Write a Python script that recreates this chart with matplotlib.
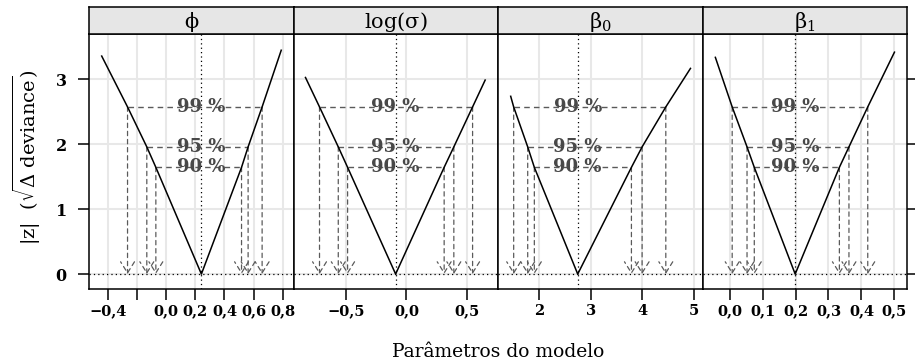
import matplotlib
matplotlib.use('Agg')
import matplotlib.pyplot as plt

plt.rcParams['font.family'] = 'DejaVu Serif'
plt.rcParams['mathtext.fontset'] = 'dejavuserif'

# Parâmetros e perfis de |z|
strip_labels = [r'$\mathregular{\phi}$', r'$\mathregular{\log(\sigma)}$',
                r'$\mathregular{\beta_0}$', r'$\mathregular{\beta_1}$']
level_names = ['90 %', '95 %', '99 %']
level_z = [1.645, 1.960, 2.576]

mle = [0.242, -0.089, 2.747, 0.199]
lower = [[-0.070, -0.132, -0.264],
         [-0.486, -0.563, -0.718],
         [1.903, 1.774, 1.501],
         [0.075, 0.053, 0.008]]
upper = [[0.517, 0.562, 0.658],
         [0.312, 0.392, 0.547],
         [3.792, 4.000, 4.461],
         [0.333, 0.362, 0.419]]
left_end = [(-0.441, 3.36), (-0.834, 3.03), (1.443, 2.74), (-0.043, 3.34)]
right_end = [(0.789, 3.45), (0.651, 2.99), (4.941, 3.17), (0.500, 3.42)]

x_ticks = [[-0.4, -0.2, 0.0, 0.2, 0.4, 0.6, 0.8],
           [-0.5, 0.0, 0.5],
           [2, 3, 4, 5],
           [0.0, 0.1, 0.2, 0.3, 0.4, 0.5]]
x_ticklabels = [['−0,4', '', '0,0', '0,2', '0,4', '0,6', '0,8'],
                ['−0,5', '0,0', '0,5'],
                ['2', '3', '4', '5'],
                ['0,0', '0,1', '0,2', '0,3', '0,4', '0,5']]
y_ticks = [0, 1, 2, 3]

x_limits = [(-0.528, 0.873), (-0.933, 0.757), (1.196, 5.175), (-0.082, 0.538)]
y_limits = (-0.23, 3.70)

W, H = 915, 364
fig = plt.figure(figsize=(W / 100, H / 100), dpi=100)

panel_left = 89
panel_w = 204.5
panel_top, panel_bottom = 34, 289
strip_top = 7

grid_col = '#e8e8e8'
ci_col = '#5a5a5a'

for i in range(4):
    x0 = (panel_left + i * panel_w) / W
    ax = fig.add_axes([x0, (H - panel_bottom) / H, panel_w / W,
                       (panel_bottom - panel_top) / H])
    st = fig.add_axes([x0, (H - panel_top) / H, panel_w / W,
                       (panel_top - strip_top) / H])

    # faixa com o nome do parâmetro
    st.set_facecolor('#e6e6e6')
    st.set_xticks([])
    st.set_yticks([])
    for s in st.spines.values():
        s.set_linewidth(1.1)
    st.text(0.5, 0.45, strip_labels[i], transform=st.transAxes,
            ha='center', va='center', fontsize=15)

    ax.set_xlim(*x_limits[i])
    ax.set_ylim(*y_limits)
    for s in ax.spines.values():
        s.set_linewidth(1.1)

    # grade
    for t in x_ticks[i]:
        ax.axvline(t, color=grid_col, lw=1.5, zorder=0)
    for t in y_ticks:
        ax.axhline(t, color=grid_col, lw=1.5, zorder=0)

    # curva de perfil
    cx = [left_end[i][0]] + lower[i][::-1] + [mle[i]] + upper[i] + [right_end[i][0]]
    cz = [left_end[i][1]] + level_z[::-1] + [0] + level_z + [right_end[i][1]]
    ax.plot(cx, cz, color='black', lw=1.1, zorder=3)

    ax.axvline(mle[i], color='black', lw=0.9, ls=(0, (1, 2.5)), zorder=2)
    ax.axhline(0, color='black', lw=0.9, ls=(0, (1, 2.5)), zorder=2)

    # intervalos de confiança
    for lo, up, z, name in zip(lower[i], upper[i], level_z, level_names):
        ax.plot([lo, up], [z, z], color=ci_col, lw=1, ls=(0, (4, 3)), zorder=2)
        for xv in (lo, up):
            ax.annotate('', xy=(xv, 0), xytext=(xv, z),
                        arrowprops=dict(arrowstyle='->,head_length=0.8,head_width=0.5',
                                        color=ci_col, lw=0.9, ls=(0, (3.5, 3)),
                                        shrinkA=0, shrinkB=0, mutation_scale=10),
                        zorder=2)
        ax.text(mle[i], z, name, ha='center', va='center', fontsize=13,
                fontweight='bold', color='#484848', zorder=4)

    ax.set_xticks(x_ticks[i])
    ax.set_xticklabels(x_ticklabels[i], fontweight='bold', fontsize=10.5)
    ax.tick_params(axis='x', direction='out', length=8, width=1.1, pad=3)
    if i == 0:
        ax.set_yticks(y_ticks)
        ax.set_yticklabels([str(t) for t in y_ticks], fontweight='bold', fontsize=11.5)
        ax.tick_params(axis='y', direction='out', length=8, width=1.1, pad=8)
    elif i == 3:
        ax.set_yticks(y_ticks)
        ax.yaxis.tick_right()
        ax.set_yticklabels([])
        ax.tick_params(axis='y', direction='out', length=8, width=1.1)
    else:
        ax.set_yticks([])

fig.text((panel_left + 2 * panel_w) / W, 1 - 352 / H, 'Parâmetros do modelo',
         ha='center', va='center', fontsize=13.5)
fig.text(27 / W, 1 - 157 / H,
         r'$\mathrm{|z|}\ \ (\sqrt{\Delta\ \mathrm{deviance}})$',
         ha='center', va='center', rotation=90, fontsize=14)

fig.savefig('out.png', dpi=100)
